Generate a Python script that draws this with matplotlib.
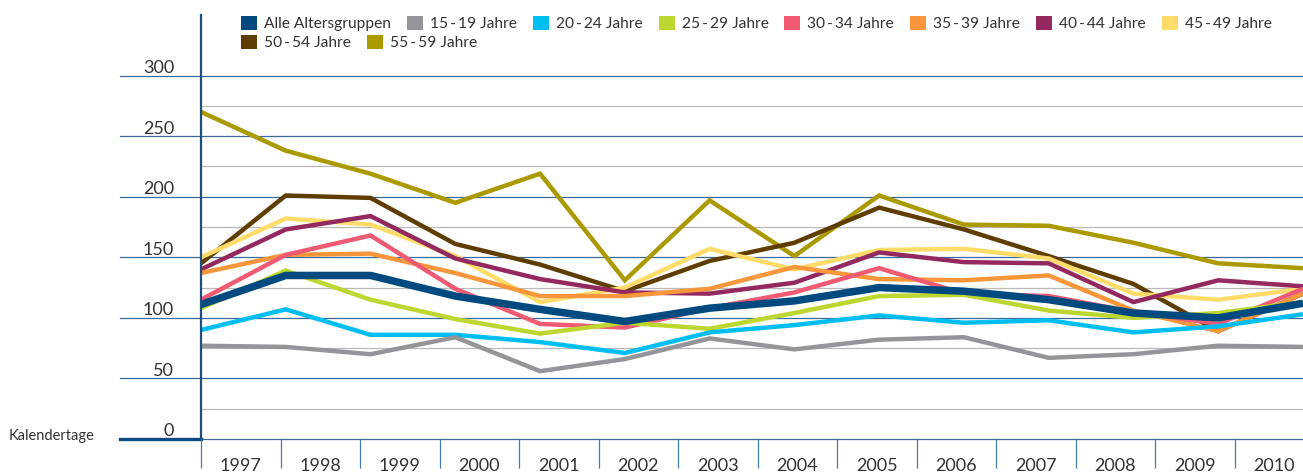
import numpy as np
import matplotlib.pyplot as plt
from matplotlib.patches import Patch
from matplotlib.transforms import ScaledTranslation

plt.rcParams['font.family'] = ['Lato', 'DejaVu Sans']

years = [str(y) for y in range(1997, 2011)]
names = ['Alle Altersgruppen', '15\u2009-\u200919 Jahre', '20\u2009-\u200924 Jahre', '25\u2009-\u200929 Jahre',
         '30\u2009-\u200934 Jahre', '35\u2009-\u200939 Jahre', '40\u2009-\u200944 Jahre', '45\u2009-\u200949 Jahre',
         '50\u2009-\u200954 Jahre', '55\u2009-\u200959 Jahre']

alle = [111, 135, 135, 118, 107, 97, 108, 114, 125, 122, 115, 104, 100, 112]
j15_19 = [77, 76, 70, 84, 56, 66, 83, 74, 82, 84, 67, 70, 77, 76]
j20_24 = [90, 107, 86, 86, 80, 71, 88, 94, 102, 96, 98, 88, 93, 103]
j25_29 = [108, 139, 115, 99, 87, 96, 91, 104, 118, 119, 106, 100, 104, 113]
j30_34 = [115, 152, 168, 124, 95, 92, 108, 121, 141, 120, 118, 105, 95, 124]
j35_39 = [137, 152, 153, 137, 118, 118, 124, 142, 132, 131, 135, 106, 89, 120]
j40_44 = [140, 173, 184, 149, 132, 121, 120, 129, 154, 146, 145, 113, 131, 126]
j45_49 = [150, 182, 177, 151, 113, 125, 157, 140, 156, 157, 149, 120, 115, 124]
j50_54 = [145, 201, 199, 161, 144, 122, 147, 162, 191, 173, 151, 128, 89, 120]
j55_59 = [270, 238, 219, 195, 219, 131, 197, 151, 201, 177, 176, 162, 145, 141]

series = [alle, j15_19, j20_24, j25_29, j30_34, j35_39, j40_44, j45_49, j50_54, j55_59]
colors = ['#004a80', '#939598', '#00bdf2', '#bed630', '#f05a73',
          '#f7963a', '#93295e', '#ffdc6a', '#5f3d00', '#aa9a00']

W, H = 1303, 474
text_col = '#333333'
major_col = '#3a6a9a'

fig = plt.figure(figsize=(W / 100, H / 100), dpi=100)
ax = fig.add_axes([201 / W, 35 / H, 1102 / W, 424 / H])
ax.set_xlim(0, 13)
ax.set_ylim(0, 350)

x = np.arange(len(years))
for i, (vals, col) in enumerate(zip(series, colors)):
    ax.plot(x, vals, color=col, lw=5.4 if i == 0 else 3.2, zorder=30 - i,
            solid_joinstyle='miter', solid_capstyle='butt')

# grid
left_ext = -81 / 1102
for v in range(0, 301, 50):
    ax.plot([left_ext, 1], [v, v], transform=ax.get_yaxis_transform(),
            color=major_col, lw=0.9, clip_on=False, zorder=2)
for v in range(25, 300, 50):
    ax.axhline(v, color='#b9b9b9', lw=0.9, zorder=2)
ax.plot([left_ext, 0], [0, 0], transform=ax.get_yaxis_transform(),
        color='#0d4a80', lw=2.4, clip_on=False, zorder=3)

for s in ['top', 'right', 'bottom']:
    ax.spines[s].set_visible(False)
ax.spines['left'].set_color('#1f4e80')
ax.spines['left'].set_linewidth(1.6)
ax.spines['left'].set_zorder(40)

ax.set_xticks([])
ax.set_yticks(range(0, 301, 50))
ax.tick_params(axis='y', length=0, pad=19.4, labelsize=13, labelcolor=text_col)
for lab in ax.get_yticklabels():
    lab.set_transform(lab.get_transform() + ScaledTranslation(0, 9 / 100, fig.dpi_scale_trans))

# year labels between separators
axl = ax.twiny()
axl.set_xlim(0, 1102 / 79.5)
axl.xaxis.set_ticks_position('bottom')
axl.set_xticks(np.arange(14))
axl.set_xticklabels([''] * 14)
axl.set_xticks(np.arange(14) + 0.5, labels=years, minor=True)
axl.tick_params(axis='x', which='major', direction='out', length=21, width=0.9, color='#4a7aa8')
axl.tick_params(axis='x', which='minor', length=0, pad=14, labelsize=13, labelcolor=text_col)
for s in axl.spines.values():
    s.set_visible(False)
axl.patch.set_visible(False)

fig.text(9 / W, 1 - 436 / H, 'Kalendertage', fontsize=10.5, color=text_col, va='center', ha='left')

handles = [Patch(facecolor=c, edgecolor='none') for c in colors]
leg_kw = dict(loc='upper left', frameon=False, fontsize=11.2, handlelength=1.03, handleheight=1.03,
              handletextpad=0.45, columnspacing=1.03, borderpad=0, borderaxespad=0,
              bbox_transform=fig.transFigure, labelcolor=text_col)
fig.legend(handles[:8], names[:8], ncol=8, bbox_to_anchor=(241 / W, 1 - 16 / H), **leg_kw)
fig.legend(handles[8:], names[8:], ncol=2, bbox_to_anchor=(241 / W, 1 - 35 / H), **leg_kw)

fig.savefig('out.png', dpi=100)
